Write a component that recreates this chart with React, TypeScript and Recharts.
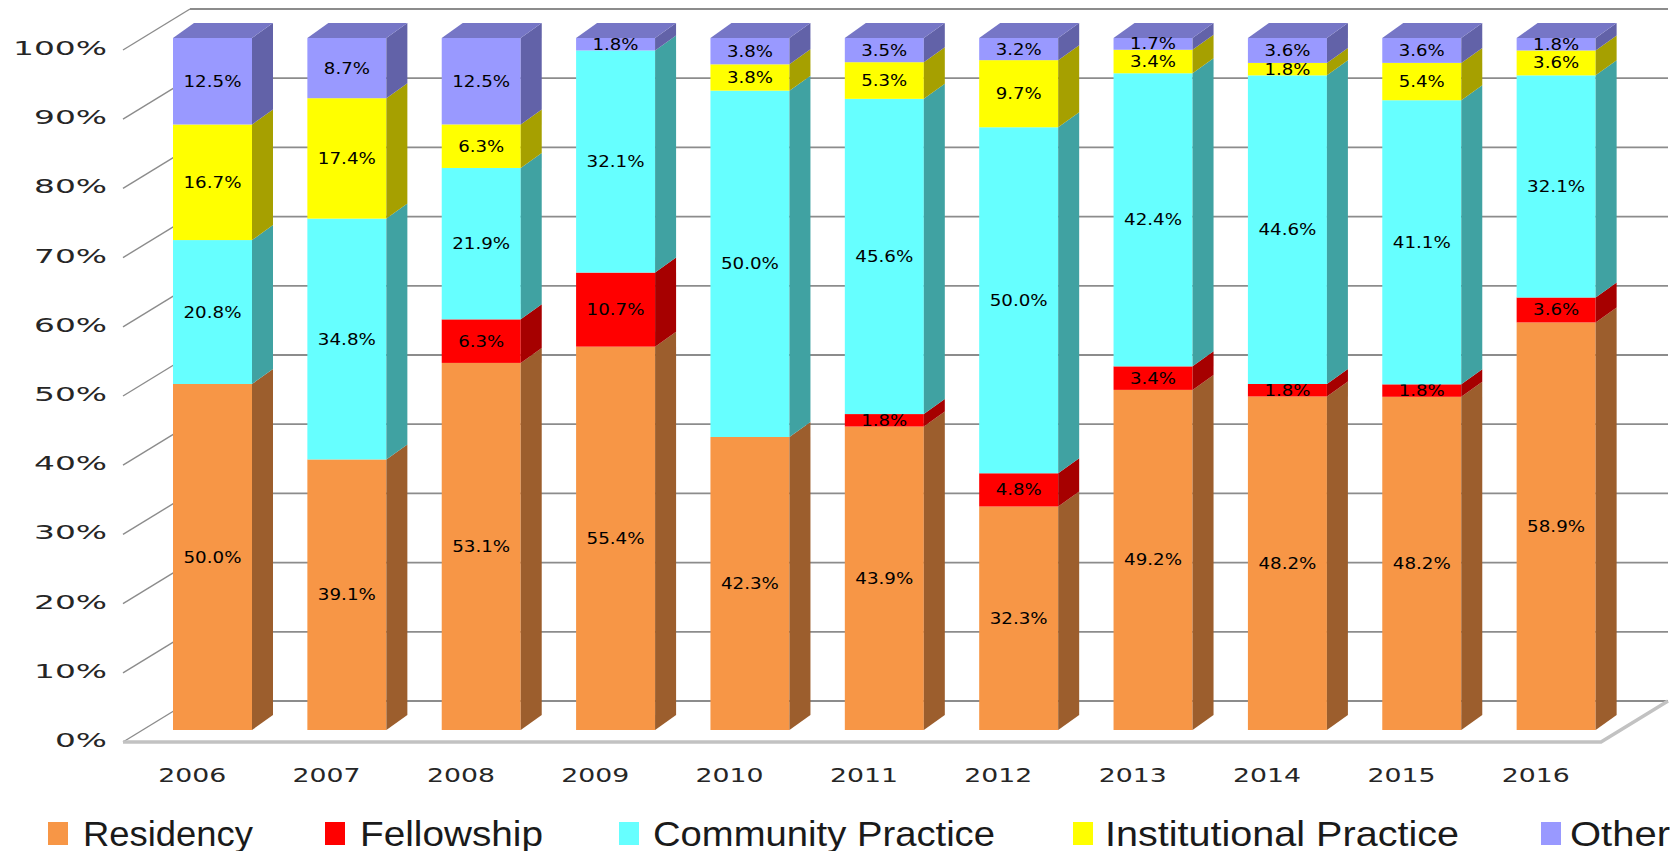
import { Bar, BarChart, CartesianGrid, Legend, XAxis, YAxis } from "recharts";

const years = ["2006", "2007", "2008", "2009", "2010", "2011", "2012", "2013", "2014", "2015", "2016"];
const residency = [50.0, 39.1, 53.1, 55.4, 42.3, 43.9, 32.3, 49.2, 48.2, 48.2, 58.9];
const fellowship = [0, 0, 6.3, 10.7, 0, 1.8, 4.8, 3.4, 1.8, 1.8, 3.6];
const community = [20.8, 34.8, 21.9, 32.1, 50.0, 45.6, 50.0, 42.4, 44.6, 41.1, 32.1];
const institutional = [16.7, 17.4, 6.3, 0, 3.8, 5.3, 9.7, 3.4, 1.8, 5.4, 3.6];
const other = [12.5, 8.7, 12.5, 1.8, 3.8, 3.5, 3.2, 1.7, 3.6, 3.6, 1.8];
const yTicks = [0, 0.1, 0.2, 0.3, 0.4, 0.5, 0.6, 0.7, 0.8, 0.9, 1];

const series = [
  { key: "residency", name: "Residency", front: "#F79646", side: "#9C5E2D", top: "#C4773A" },
  { key: "fellowship", name: "Fellowship", front: "#FF0000", side: "#A60000", top: "#CC0000" },
  { key: "community", name: "Community Practice", front: "#66FFFF", side: "#40A2A2", top: "#52CCCC" },
  { key: "institutional", name: "Institutional Practice", front: "#FFFF00", side: "#A6A000", top: "#CCCC00" },
  { key: "other", name: "Other", front: "#9999FF", side: "#6262A8", top: "#7676C6" },
];

const data = years.map((year, i) => ({
  year,
  residency: residency[i],
  fellowship: fellowship[i],
  community: community[i],
  institutional: institutional[i],
  other: other[i],
}));

// layout
const W = 1662;
const H = 843;
const PLOT_BOTTOM = 722;
const FRONT_DX = -22;
const FRONT_DY = 12;
const BACK_DX = 45;
const BACK_DY = -29;
const BAR_DX = 21;
const BAR_DY = -15;
const GRID = "#8c8c8c";

const charW = (t: string, digit: number, dot: number, pct: number) =>
  [...t].reduce((w, c) => w + (c === "%" ? pct : c === "." ? dot : digit), 0);

function makeShape(s: (typeof series)[number], isTop: boolean) {
  return (props: any) => {
    const { x, y, width, height, payload } = props;
    const v = payload[s.key];
    if (!v || !height) return <g />;
    const label = `${v.toFixed(1)}%`;
    return (
      <g>
        <rect x={x} y={y} width={width} height={height} fill={s.front} />
        <polygon
          points={`${x + width},${y} ${x + width + BAR_DX},${y + BAR_DY} ${x + width + BAR_DX},${y + height + BAR_DY} ${x + width},${y + height}`}
          fill={s.side}
        />
        {isTop && (
          <polygon
            points={`${x},${y} ${x + width},${y} ${x + width + BAR_DX},${y + BAR_DY} ${x + BAR_DX},${y + BAR_DY}`}
            fill={s.top}
          />
        )}
        <text
          x={x + width / 2}
          y={y + height / 2}
          textAnchor="middle"
          dominantBaseline="central"
          fontFamily="DejaVu Sans"
          fontSize={16}
          fill="#000"
          textLength={charW(label, 12, 5, 17)}
          lengthAdjust="spacingAndGlyphs"
        >
          {label}
        </text>
      </g>
    );
  };
}

const gridLine = (props: any) => {
  const { x1, x2, y1 } = props;
  const isFloor = Math.abs(y1 - PLOT_BOTTOM) < 1;
  return (
    <g key={props.key}>
      <line x1={x1 + BACK_DX} y1={y1 + BACK_DY} x2={x2 + BACK_DX} y2={y1 + BACK_DY} stroke={GRID} strokeWidth={1.8} />
      <line x1={x1 + FRONT_DX} y1={y1 + FRONT_DY} x2={x1 + BACK_DX} y2={y1 + BACK_DY} stroke={GRID} strokeWidth={1.4} />
      {isFloor && (
        <polyline
          points={`${x1 + FRONT_DX},${y1 + FRONT_DY} ${x2 + FRONT_DX},${y1 + FRONT_DY} ${x2 + BACK_DX},${y1 + BACK_DY}`}
          fill="none"
          stroke="#c2c2c2"
          strokeWidth={3.5}
        />
      )}
    </g>
  );
};

const YTick = (props: any) => {
  const label = `${Math.round(props.payload.value * 100)}%`;
  return (
    <text
      x={99}
      y={props.y + FRONT_DY - 2}
      textAnchor="end"
      dominantBaseline="central"
      fontFamily="DejaVu Sans"
      fontSize={20}
      fill="#262626"
      textLength={charW(label, 21, 8, 31)}
      lengthAdjust="spacingAndGlyphs"
    >
      {label}
    </text>
  );
};

const XTick = (props: any) => (
  <text
    x={props.x + FRONT_DX + 2}
    y={PLOT_BOTTOM + 45}
    textAnchor="middle"
    dominantBaseline="central"
    fontFamily="DejaVu Sans"
    fontSize={20}
    fill="#262626"
    textLength={68}
    lengthAdjust="spacingAndGlyphs"
  >
    {props.payload.value}
  </text>
);

const legendSquareX = [40, 317, 611, 1065, 1533];
const legendTextX = [75, 352, 645, 1097, 1562];
const legendTextW = [170, 183, 342, 354, 100];

const renderLegend = () => (
  <svg width={W} height={56} style={{ display: "block" }}>
    {series.map((s, i) => (
      <g key={s.key}>
        <rect x={legendSquareX[i]} y={27} width={20} height={23} fill={s.front} />
        <text
          x={legendTextX[i]}
          y={38}
          dominantBaseline="central"
          fontFamily="Liberation Sans"
          fontSize={35}
          fill="#1a1a1a"
          textLength={legendTextW[i]}
          lengthAdjust="spacingAndGlyphs"
        >
          {s.name}
        </text>
      </g>
    ))}
  </svg>
);

export default function App() {
  return (
    <BarChart
      width={W}
      height={H}
      data={data}
      stackOffset="expand"
      margin={{ top: 30, right: 47, left: 0, bottom: 0 }}
      barSize={79}
    >
      <CartesianGrid vertical={false} horizontal={gridLine} />
      <XAxis dataKey="year" axisLine={false} tickLine={false} height={65} tick={<XTick />} interval={0} />
      <YAxis
        domain={[0, 1]}
        ticks={yTicks}
        axisLine={false}
        tickLine={false}
        width={137}
        tick={<YTick />}
        interval={0}
      />
      <Legend
        verticalAlign="bottom"
        content={renderLegend}
        wrapperStyle={{ left: 0, width: W, height: 56 }}
      />
      {series.map((s, i) => (
        <Bar
          key={s.key}
          dataKey={s.key}
          name={s.name}
          stackId="a"
          fill={s.front}
          shape={makeShape(s, i === series.length - 1)}
          isAnimationActive={false}
        />
      ))}
    </BarChart>
  );
}
